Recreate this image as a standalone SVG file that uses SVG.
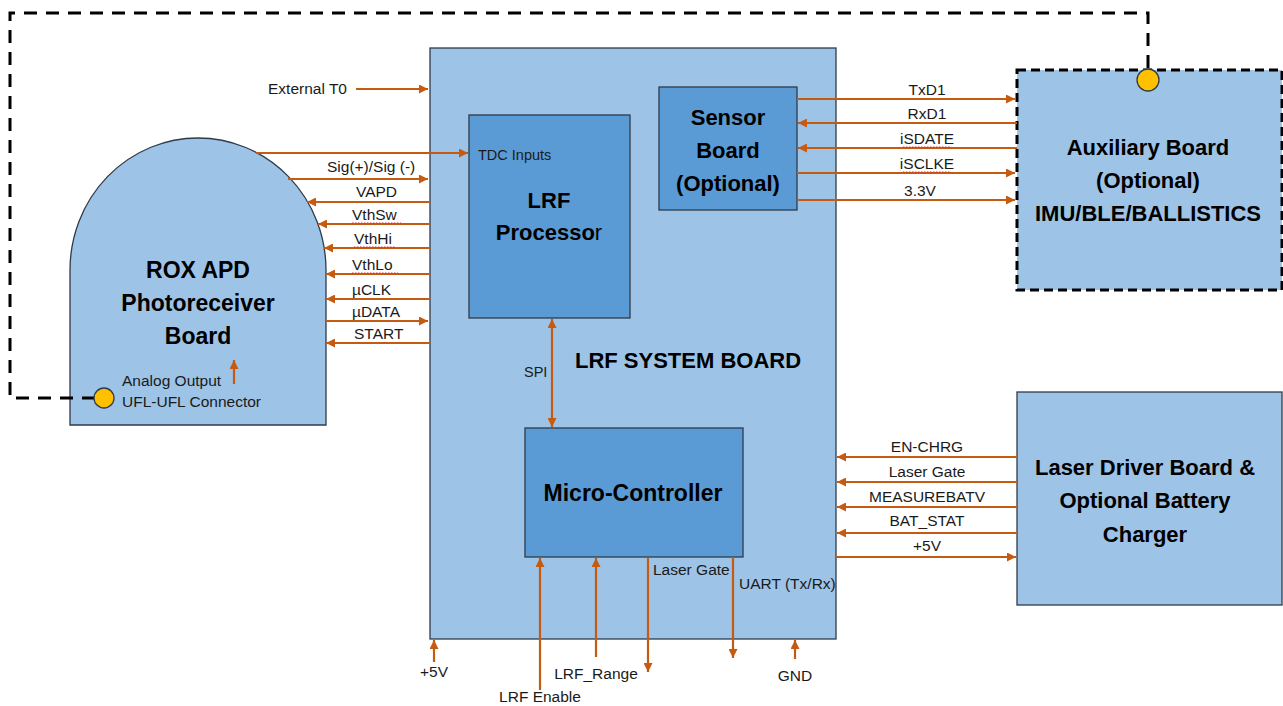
<svg xmlns="http://www.w3.org/2000/svg" width="1283" height="706" viewBox="0 0 1283 706">
<defs>
<marker id="ah" viewBox="0 0 10 10" refX="10" refY="5" markerWidth="9" markerHeight="9" markerUnits="userSpaceOnUse" orient="auto-start-reverse">
<path d="M0,0 L10,5 L0,10 Z" fill="#C55A11"/>
</marker>
<style>
.board{fill:#9DC3E6;stroke:#2F3B4A;stroke-width:1.3}
.chip{fill:#5B9BD5;stroke:#2F3B4A;stroke-width:1.3}
.w{stroke:#C55A11;stroke-width:2.2;fill:none}
.a{marker-end:url(#ah)}
.b{marker-start:url(#ah);marker-end:url(#ah)}
.t{font-family:"Liberation Sans",Arial,sans-serif;font-size:15.5px;fill:#1a1a1a}
.c{text-anchor:middle}
.h{font-family:"Liberation Sans",Arial,sans-serif;font-size:22px;font-weight:bold;fill:#000;text-anchor:middle}
.sq{stroke:#E03030;stroke-width:1;stroke-dasharray:1.5 1.5;fill:none}
.dash{stroke:#000;stroke-width:3;fill:none;stroke-dasharray:13 9}
.pin{fill:#FFC000;stroke:#2F3B4A;stroke-width:1.3}
</style>
</defs>
<rect width="1283" height="706" fill="#fff"/>

<g id="system-board">
<rect class="board" x="430" y="48" width="406" height="591"/>
<text class="h" x="688" y="368">LRF SYSTEM BOARD</text>
</g>

<g id="lrf-processor">
<rect class="chip" x="469" y="115" width="161" height="203"/>
<text class="t" x="478" y="160" style="font-size:14.5px">TDC Inputs</text>
<text class="h" x="549" y="208">LRF</text>
<text class="h" x="549" y="240">Processo<tspan font-weight="normal">r</tspan></text>
</g>

<g id="sensor-board">
<rect class="chip" x="659" y="87" width="138" height="123"/>
<text class="h" x="728" y="125">Sensor</text>
<text class="h" x="728" y="158">Board</text>
<text class="h" x="728" y="191">(Optional)</text>
</g>

<g id="micro-controller">
<rect class="chip" x="525" y="428" width="218" height="129"/>
<text class="h" x="633" y="501" style="font-size:23px">Micro-Controller</text>
</g>

<g id="rox-apd">
<path class="board" d="M70,425 V270 A128,132 0 0 1 326,270 V425 Z"/>
<text class="h" x="198" y="278" style="font-size:23px">ROX APD</text>
<text class="h" x="198" y="311" style="font-size:23px">Photoreceiver</text>
<text class="h" x="198" y="344" style="font-size:23px">Board</text>
<text class="t" x="122" y="386">Analog Output</text>
<text class="t" x="122" y="407">UFL-UFL Connector</text>
</g>

<g id="auxiliary-board">
<rect x="1017" y="70" width="265" height="220" fill="#9DC3E6" stroke="#000" stroke-width="3" stroke-dasharray="9 5"/>
<text class="h" x="1148" y="155">Auxiliary Board</text>
<text class="h" x="1148" y="188">(Optional)</text>
<text class="h" x="1148" y="221">IMU/BLE/BALLISTICS</text>
</g>

<g id="laser-driver-board">
<rect class="board" x="1017" y="392" width="265" height="213"/>
<text class="h" x="1145" y="475">Laser Driver Board &amp;</text>
<text class="h" x="1145" y="508">Optional Battery</text>
<text class="h" x="1145" y="542">Charger</text>
</g>

<g id="connectors">
<path class="dash" d="M95,398 H10 V13 H1148 V69"/>
<circle class="pin" cx="104" cy="398" r="10"/>
<circle class="pin" cx="1148" cy="80" r="11"/>
<line class="w a" x1="234" y1="384" x2="234" y2="360"/>

<line class="w a" x1="356" y1="89" x2="428" y2="89"/>
<text class="t" x="268" y="94">External T0</text>
<line class="w a" x1="256" y1="153" x2="468" y2="153"/>
<line class="w a" x1="288" y1="179" x2="428" y2="179"/>
<text class="t" x="327" y="172">Sig(+)/Sig (-)</text>
<line class="w a" x1="430" y1="202" x2="307" y2="202"/>
<text class="t" x="356" y="197">VAPD</text>
<line class="w a" x1="430" y1="224" x2="318" y2="224"/>
<text class="t" x="352" y="220">VthSw</text>
<line class="sq" x1="352" y1="223" x2="401" y2="223"/>
<line class="w a" x1="430" y1="248" x2="324" y2="248"/>
<text class="t" x="354" y="244">VthHi</text>
<line class="sq" x1="354" y1="247" x2="395" y2="247"/>
<line class="w a" x1="430" y1="274" x2="326" y2="274"/>
<text class="t" x="352" y="270">VthLo</text>
<line class="sq" x1="352" y1="273" x2="398" y2="273"/>
<line class="w a" x1="430" y1="299" x2="326" y2="299"/>
<text class="t" x="352" y="295">µCLK</text>
<line class="w a" x1="326" y1="321" x2="428" y2="321"/>
<text class="t" x="352" y="317">µDATA</text>
<line class="w a" x1="430" y1="343" x2="326" y2="343"/>
<text class="t" x="354" y="339">START</text>

<line class="w a" x1="797" y1="99" x2="1015" y2="99"/>
<text class="t c" x="927" y="95">TxD1</text>
<line class="w a" x1="1017" y1="123" x2="798" y2="123"/>
<text class="t c" x="927" y="119">RxD1</text>
<line class="w a" x1="1017" y1="148" x2="798" y2="148"/>
<text class="t c" x="927" y="144">iSDATE</text>
<line class="sq" x1="903" y1="147" x2="951" y2="147"/>
<line class="w a" x1="797" y1="173" x2="1015" y2="173"/>
<text class="t c" x="927" y="169">iSCLKE</text>
<line class="sq" x1="903" y1="172" x2="951" y2="172"/>
<line class="w a" x1="797" y1="200" x2="1015" y2="200"/>
<text class="t c" x="920" y="196">3.3V</text>

<line class="w a" x1="1017" y1="457" x2="837" y2="457"/>
<text class="t c" x="927" y="452">EN-CHRG</text>
<line class="w a" x1="1017" y1="482" x2="837" y2="482"/>
<text class="t c" x="927" y="477">Laser Gate</text>
<line class="w a" x1="1017" y1="507" x2="837" y2="507"/>
<text class="t c" x="927" y="502">MEASUREBATV</text>
<line class="w a" x1="1017" y1="533" x2="837" y2="533"/>
<text class="t c" x="927" y="526">BAT_STAT</text>
<line class="w a" x1="836" y1="557" x2="1016" y2="557"/>
<text class="t c" x="927" y="551">+5V</text>

<line class="w b" x1="552" y1="319" x2="552" y2="427"/>
<text class="t" x="524" y="377" style="font-size:14.5px">SPI</text>

<line class="w a" x1="434" y1="662" x2="434" y2="640"/>
<text class="t c" x="434" y="677">+5V</text>
<line class="w a" x1="540" y1="690" x2="540" y2="558"/>
<text class="t c" x="540" y="702">LRF Enable</text>
<line class="w a" x1="596" y1="657" x2="596" y2="558"/>
<text class="t c" x="596" y="679">LRF_Range</text>
<line class="w a" x1="648" y1="558" x2="648" y2="672"/>
<text class="t" x="653" y="575">Laser Gate</text>
<line class="w a" x1="733" y1="557" x2="733" y2="658"/>
<text class="t" x="739" y="589">UART (Tx/Rx)</text>
<line class="w a" x1="795" y1="659" x2="795" y2="640"/>
<text class="t c" x="795" y="681">GND</text>
</g>
</svg>
